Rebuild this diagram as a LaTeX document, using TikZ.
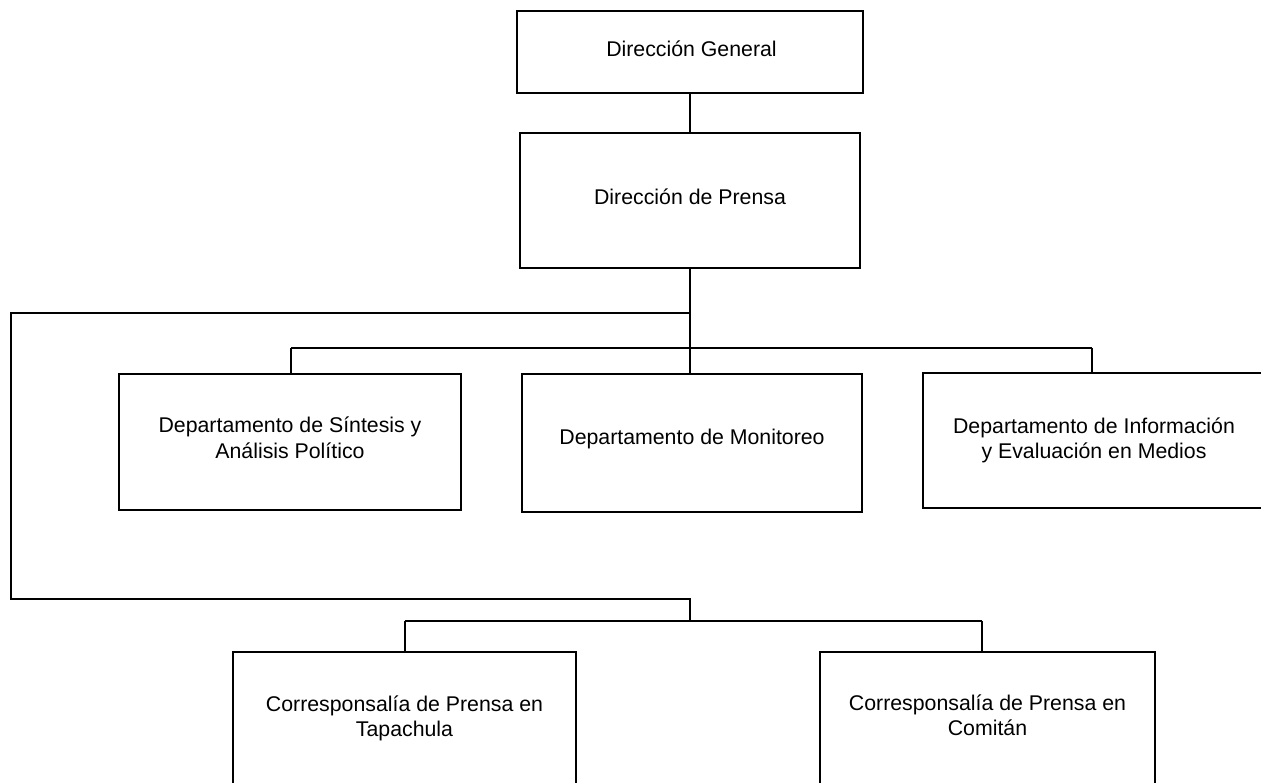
\documentclass[tikz,border=0pt]{standalone}
\usepackage{fontspec}
\setmainfont{Liberation Sans}
\begin{document}
\begin{tikzpicture}[x=1pt,y=-1pt,
  box/.style={draw=black,line width=1.3pt,fill=white,inner sep=0pt},
  txt/.style={inner sep=0pt,align=center,font=\fontsize{21.3}{25.5}\selectfont},
  conn/.style={draw=black,line width=1.3pt}]
\useasboundingbox (0,0) rectangle (1261,783);
\clip (0,0) rectangle (1261,783);
% boxes
\node[box,minimum width=346pt,minimum height=82pt] (dg) at (690,52) {};
\node[box,minimum width=340pt,minimum height=135pt] (dp) at (690,200.5) {};
\node[box,minimum width=342pt,minimum height=136pt] (s1) at (290,442) {};
\node[box,minimum width=340pt,minimum height=138pt] (s2) at (692,443) {};
\node[box,minimum width=339pt,minimum height=135pt] (s3) at (1092.5,440.5) {};
\node[box,minimum width=343pt,minimum height=136pt] (c1) at (404.5,720) {};
\node[box,minimum width=335pt,minimum height=136pt] (c2) at (987.5,720) {};
% texts
\node[txt] (dgt) at ([xshift=1.5,yshift=3.5]dg.center) {Dirección General};
\node[txt] (dpt) at ([yshift=4]dp.center) {Dirección de Prensa};
\node[txt] (s1t) at ([yshift=4]s1.center) {Departamento de Síntesis y\\Análisis Político};
\node[txt] (s2t) at ([yshift=4.5]s2.center) {Departamento de Monitoreo};
\node[txt] (s3t) at ([xshift=1.5]s3.center) {Departamento de Información\\y Evaluación en Medios};
\node[txt] (c1t) at ([yshift=1.5]c1.center) {Corresponsalía de Prensa en\\Tapachula};
\node[txt] (c2t) at ([yshift=4.5]c2.center) {Corresponsalía de Prensa en\\Comitán};
% coordinates
\coordinate (j1) at (690,348);
\coordinate (l1) at (291,348);
\coordinate (r1) at (1092,348);
\coordinate (b0) at (690,313);
\coordinate (b1) at (11,313);
\coordinate (b2) at (11,599);
\coordinate (b3) at (690,599);
\coordinate (b4) at (690,621);
\coordinate (l2) at (405,621);
\coordinate (r2) at (982,621);
% connectors
\draw[conn] (dg.south) -- (dp.north);
\draw[conn] (dp.south) -- (j1);
\draw[conn] (l1) -- (r1);
\draw[conn] (l1) -- (l1 |- s1.north);
\draw[conn] (j1) -- (j1 |- s2.north);
\draw[conn] (r1) -- (r1 |- s3.north);
\draw[conn] (b0) -- (b1) -- (b2) -- (b3) -- (b4);
\draw[conn] (l2) -- (r2);
\draw[conn] (l2) -- (l2 |- c1.north);
\draw[conn] (r2) -- (r2 |- c2.north);
\end{tikzpicture}
\end{document}
